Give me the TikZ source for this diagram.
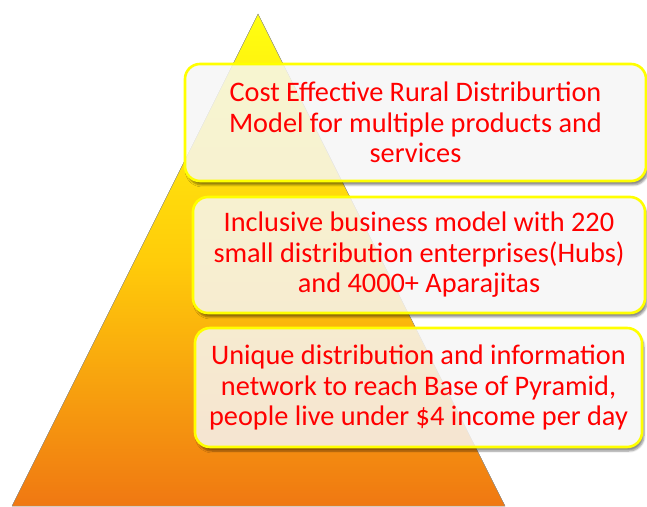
\documentclass[tikz,border=0pt]{standalone}
\usepackage{fontspec}
\setmainfont{Carlito}
\usetikzlibrary{shadows.blur}
\definecolor{boxfill}{HTML}{F6F6F6}
\definecolor{txtred}{HTML}{FF0000}
\definecolor{ylw}{HTML}{FFFF00}
\definecolor{topY}{HTML}{FFFF10}
\definecolor{midY}{HTML}{FFCC0A}
\definecolor{botO}{HTML}{F07812}
\tikzset{
  boxshape/.style={rounded corners=15pt},
  boxshadow/.style={boxshape, fill=white,
    blur shadow={shadow xshift=2pt, shadow yshift=-4pt, shadow blur steps=6, shadow opacity=45}},
  boxframe/.style={boxshape, draw=ylw, line width=2.6pt, fill=boxfill, fill opacity=0.84},
  boxtext/.style={text=txtred, align=center, inner sep=0pt,
    font=\fontsize{28.3}{30.5}\selectfont}
}
\newcommand\pybox[6]{% x1 y1 x2 y2 name text
  \begin{scope}[even odd rule, rounded corners=15pt]
    \clip (-10,-10) rectangle (660,520) (#1,#2) rectangle (#3,#4);
    \path[boxshadow] (#1,#2) rectangle (#3,#4);
  \end{scope}
  \path[boxframe] (#1,#2) rectangle (#3,#4);
  \node[boxtext] (#5) at ({(#1+#3)/2},{(#2+#4)/2}) {#6};
}
\begin{document}
\begin{tikzpicture}[x=1pt,y=1pt]
\useasboundingbox (0,0) rectangle (647,506);
\fill[top color=topY, bottom color=botO, middle color=midY, draw=black!40, line width=0.4pt]
  (258,492) -- (505,0) -- (12,0) -- cycle;
\pybox{185}{325}{646}{442}{b1}{Cost Effective Rural Distriburtion\\Model for multiple products and\\services}
\pybox{193}{193}{645}{309}{b2}{Inclusive business model with 220\\small distribution enterprises(Hubs)\\and 4000+ Aparajitas}
\pybox{195}{59}{642}{178}{b3}{Unique distribution and information\\network to reach Base of Pyramid,\\people live under \$4 income per day}
\end{tikzpicture}
\end{document}
